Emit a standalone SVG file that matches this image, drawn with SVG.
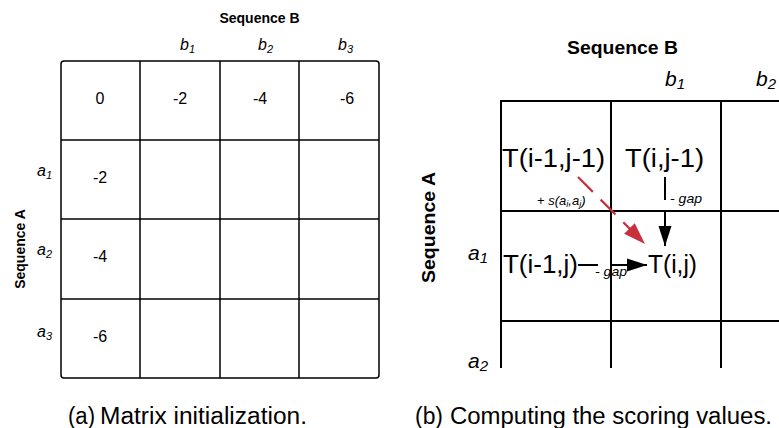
<svg xmlns="http://www.w3.org/2000/svg" width="779" height="428" viewBox="0 0 779 428">
<style>
text{font-family:"Liberation Sans",Arial,sans-serif;fill:#000}
.lg{stroke:#000;stroke-width:1.5;fill:none}
.rg{stroke:#000;stroke-width:2;fill:none}
.num{font-size:16px;text-anchor:middle}
.hdr{font-weight:bold}
.it{font-style:italic}
.cap{font-size:23px}
.tt{font-size:25px}
.conn{stroke:#000;stroke-width:2;fill:none}
.red{stroke:#c8303c;stroke-width:2.2;fill:none;stroke-dasharray:21 11}
</style>
<defs>
<marker id="ah" markerUnits="userSpaceOnUse" markerWidth="20" markerHeight="14" refX="20" refY="7" orient="auto"><path d="M0,0.5 L20,7 L0,13.5 z" fill="#000"/></marker>
<marker id="ahr" markerUnits="userSpaceOnUse" markerWidth="22" markerHeight="16" refX="22" refY="8" orient="auto"><path d="M0,0.5 L22,8 L0,15.5 z" fill="#c8303c"/></marker>
</defs>

<g id="panel-a">
<g id="matrix-a">
<rect class="lg" x="61" y="61" width="318" height="317" rx="3"/>
<line class="lg" x1="140" y1="61" x2="140" y2="378"/>
<line class="lg" x1="220" y1="61" x2="220" y2="378"/>
<line class="lg" x1="299" y1="61" x2="299" y2="378"/>
<line class="lg" x1="61" y1="140" x2="379" y2="140"/>
<line class="lg" x1="61" y1="219" x2="379" y2="219"/>
<line class="lg" x1="61" y1="299" x2="379" y2="299"/>
</g>
<g id="values-a">
<text class="num" x="100" y="104">0</text>
<text class="num" x="180" y="104">-2</text>
<text class="num" x="260" y="104">-4</text>
<text class="num" x="347" y="104">-6</text>
<text class="num" x="100" y="183">-2</text>
<text class="num" x="100" y="262">-4</text>
<text class="num" x="100" y="342">-6</text>
</g>
<g id="labels-a">
<text class="hdr" x="259.5" y="23" font-size="14" text-anchor="middle">Sequence B</text>
<text class="hdr" font-size="14" text-anchor="middle" transform="translate(25,249) rotate(-90)">Sequence A</text>
<text class="it" x="180" y="50" font-size="16">b<tspan font-size="11" dy="3">1</tspan></text>
<text class="it" x="258" y="50" font-size="16">b<tspan font-size="11" dy="3">2</tspan></text>
<text class="it" x="338" y="50" font-size="16">b<tspan font-size="11" dy="3">3</tspan></text>
<text class="it" x="37" y="176" font-size="16">a<tspan font-size="11" dy="3">1</tspan></text>
<text class="it" x="37" y="255" font-size="16">a<tspan font-size="11" dy="3">2</tspan></text>
<text class="it" x="37" y="337" font-size="16">a<tspan font-size="11" dy="3">3</tspan></text>
</g>
<text class="cap" x="68" y="424" textLength="27" lengthAdjust="spacingAndGlyphs">(a)</text>
<text class="cap" x="100" y="424" textLength="207" lengthAdjust="spacingAndGlyphs">Matrix initialization.</text>
</g>

<g id="panel-b">
<g id="grid-b">
<line class="rg" x1="500" y1="101" x2="779" y2="101"/>
<line class="rg" x1="501" y1="211" x2="779" y2="211"/>
<line class="rg" x1="501" y1="321" x2="779" y2="321"/>
<line class="rg" x1="501" y1="100" x2="501" y2="368"/>
<line class="rg" x1="611" y1="101" x2="611" y2="368"/>
<line class="rg" x1="721" y1="101" x2="721" y2="368"/>
</g>
<g id="labels-b">
<text class="hdr" x="567" y="54" font-size="18" textLength="111" lengthAdjust="spacingAndGlyphs">Sequence B</text>
<text class="hdr" font-size="18" text-anchor="middle" textLength="111" lengthAdjust="spacingAndGlyphs" transform="translate(435,227.5) rotate(-90)">Sequence A</text>
<text class="it" x="665" y="86" font-size="21">b<tspan font-size="15" dy="3">1</tspan></text>
<text class="it" x="756" y="86" font-size="21">b<tspan font-size="15" dy="3">2</tspan></text>
<text class="it" x="468" y="260" font-size="21">a<tspan font-size="15" dy="3">1</tspan></text>
<text class="it" x="468" y="368" font-size="21">a<tspan font-size="15" dy="3">2</tspan></text>
</g>
<g id="node-tij-diag"><text class="tt" x="502" y="167" textLength="103" lengthAdjust="spacingAndGlyphs">T(i-1,j-1)</text></g>
<g id="node-tij-up"><text class="tt" x="625" y="167" textLength="79" lengthAdjust="spacingAndGlyphs">T(i,j-1)</text></g>
<g id="node-tij-left"><text class="tt" x="503" y="273" textLength="75" lengthAdjust="spacingAndGlyphs">T(i-1,j)</text></g>
<g id="node-tij"><text class="tt" x="648" y="273" textLength="49" lengthAdjust="spacingAndGlyphs">T(i,j)</text></g>
<g id="connectors">
<line class="red" x1="578" y1="177" x2="645" y2="244" marker-end="url(#ahr)"/>
<line class="conn" x1="665" y1="177" x2="665" y2="200"/>
<line class="conn" x1="665" y1="212" x2="665" y2="246" marker-end="url(#ah)"/>
<line class="conn" x1="578" y1="265" x2="598" y2="265"/>
<line class="conn" x1="611" y1="265" x2="647" y2="265" marker-end="url(#ah)"/>
<text x="537" y="205" font-size="13">+ <tspan class="it">s(a</tspan><tspan class="it" font-size="9" dy="2">i</tspan><tspan class="it" dy="-2">,a</tspan><tspan class="it" font-size="9" dy="2">j</tspan><tspan class="it" dy="-2">)</tspan></text>
<text class="it" x="670" y="203" font-size="13" textLength="32" lengthAdjust="spacingAndGlyphs">- gap</text>
<text class="it" x="595" y="276" font-size="13" textLength="32" lengthAdjust="spacingAndGlyphs">- gap</text>
</g>
<text class="cap" x="415" y="424" textLength="28" lengthAdjust="spacingAndGlyphs">(b)</text>
<text class="cap" x="450" y="424" textLength="322" lengthAdjust="spacingAndGlyphs">Computing the scoring values.</text>
</g>
</svg>
